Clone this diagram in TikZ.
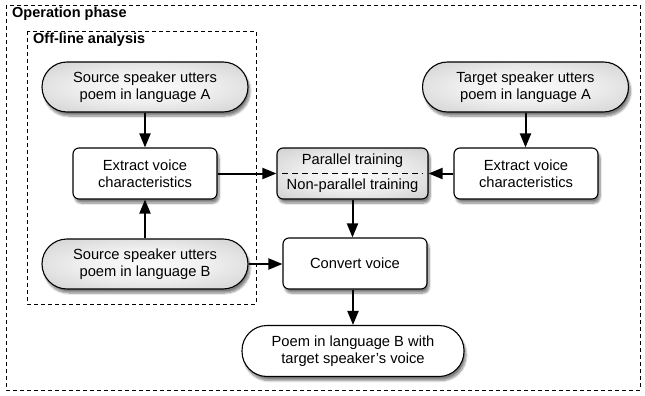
\documentclass[tikz,border=0pt]{standalone}
\usepackage{fontspec}
\setmainfont{Liberation Sans}
\usetikzlibrary{shadows.blur,arrows.meta,calc}

% soft radial fill: pale centre, mid-grey rim
\pgfdeclareradialshading{softgrey}{\pgfpoint{0bp}{0bp}}{%
  color(0bp)=(black!2); color(15bp)=(black!6); color(32bp)=(black!16);
  color(44bp)=(black!30); color(50bp)=(black!40); color(72bp)=(black!48)}

\begin{document}
\begin{tikzpicture}[x=1pt,y=-1pt,
  font=\fontsize{14.7}{17}\selectfont,
  base/.style={draw=black, line width=1.1pt, align=center,
    blur shadow={shadow xshift=2pt, shadow yshift=-4pt, shadow blur steps=8, shadow opacity=50}},
  pill/.style={base, rounded corners=25pt, minimum width=206pt, minimum height=50pt,
    shading=softgrey},
  outpill/.style={base, rounded corners=25pt, minimum width=222pt, minimum height=51pt, fill=white},
  stepbox/.style={base, rounded corners=6pt, minimum width=144pt, minimum height=51pt, fill=white},
  trainbox/.style={base, rounded corners=6pt, minimum width=151pt, minimum height=51pt,
    shading=softgrey},
  txt/.style={inner sep=0pt, align=center},
  frame/.style={line width=0.8pt, dash pattern=on 4pt off 3pt},
  title/.style={font=\fontsize{14.5}{17}\selectfont\bfseries, inner sep=0pt, anchor=base west},
  flow/.style={line width=2pt, -{Triangle[length=14pt,width=11pt]}}
]
\useasboundingbox (0,0) rectangle (645,396);

% enclosing phases
\draw[frame] (6,5) rectangle (640,390);
\node[title] (opTitle) at (12,18) {Operation phase};
\draw[frame] (27,31) rectangle (256,304);
\node[title] (offTitle) at (33,44) {Off-line analysis};

% source side
\node[pill] (srcA) at (145,87) {Source speaker utters\\poem in language A};
\node[stepbox] (extL) at (145,173.5) {Extract voice\\characteristics};
\node[pill] (srcB) at (145,264) {Source speaker utters\\poem in language B};

% target side
\node[pill] (tgtA) at (525.5,87) {Target speaker utters\\poem in language A};
\node[stepbox] (extR) at (526,173.5) {Extract voice\\characteristics};

% training box with its two alternatives
\node[trainbox] (train) at (352.5,173.5) {};
\node[txt] (trainPar) at (352.5,161) {Parallel training};
\node[txt] (trainNon) at (352.5,186) {Non-parallel training};
\draw[line width=0.8pt, dash pattern=on 6pt off 4pt]
  ($(train.west)+(6,0)$) -- ($(train.east)+(-6,0)$);

% conversion and result
\node[stepbox] (conv) at (355,263.5) {Convert voice};
\node[outpill] (poem) at (353,351) {Poem in language B with\\target speaker's voice};

% connectors
\draw[flow] (srcA.south) -- (extL.north);
\draw[flow] (srcB.north) -- (extL.south);
\draw[flow] (extL.east) -- (train.west);
\draw[flow] (tgtA.south) -- (tgtA.south |- extR.north);
\draw[flow] (extR.west) -- (train.east);
\draw[flow] (train.south) -- (train.south |- conv.north);
\draw[flow] (srcB.east) -- (srcB.east -| conv.west);
\draw[flow] (poem.north |- conv.south) -- (poem.north);
\end{tikzpicture}
\end{document}
